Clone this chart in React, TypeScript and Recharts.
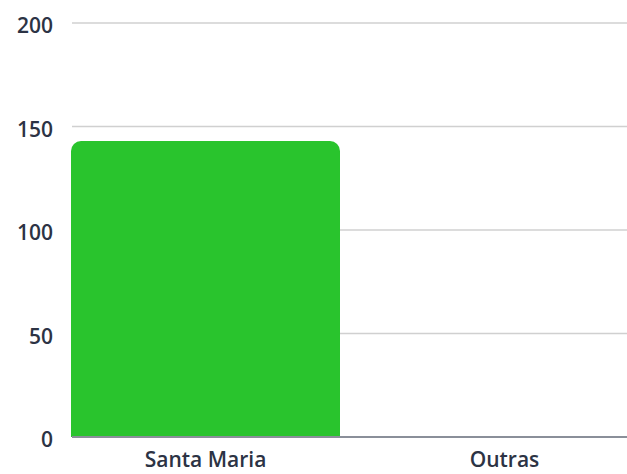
import React from "react";
import { BarChart, Bar, XAxis, YAxis, CartesianGrid } from "recharts";

const categories = ["Santa Maria", "Outras"];
const values = [143, 0];
const yTicks = [0, 50, 100, 150, 200];

const data = categories.map((name, i) => ({ name, value: values[i] }));

const tickFont = { fill: "#2c3344", fontSize: 21, fontWeight: 600, fontFamily: "Open Sans" };

export default function App() {
  return (
    <div style={{ position: "fixed", top: 0, left: 0, width: 627, height: 474, overflow: "hidden", background: "#fff" }}>
      <BarChart
        width={700}
        height={474}
        data={data}
        margin={{ top: 23, right: 40, bottom: 0, left: 0 }}
        barCategoryGap={15}
      >
        <CartesianGrid vertical={false} stroke="#d0d0d0" strokeWidth={1.5} />
        <YAxis
          domain={[0, 200]}
          ticks={yTicks}
          width={72}
          axisLine={false}
          tickLine={false}
          tickSize={0}
          tickMargin={19}
          tick={{ ...tickFont, dy: 3 }}
        />
        <XAxis
          dataKey="name"
          padding={{ left: -16, right: 6 }}
          axisLine={{ stroke: "#8a8f99", strokeWidth: 2 }}
          tickLine={false}
          tickSize={0}
          tickMargin={15}
          height={37}
          tick={tickFont}
        />
        <Bar dataKey="value" fill="#29c42d" radius={[10, 10, 0, 0]} isAnimationActive={false} />
      </BarChart>
    </div>
  );
}
